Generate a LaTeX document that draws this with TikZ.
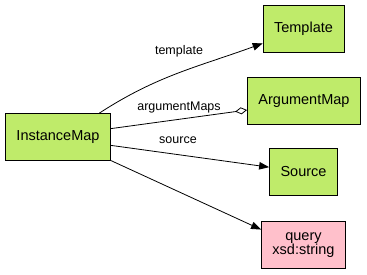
\documentclass[tikz,border=0pt]{standalone}
\usepackage{fontspec}
\setmainfont{Liberation Sans}
\usetikzlibrary{arrows.meta,positioning,calc}
\definecolor{clsG}{HTML}{BFEB6A}
\definecolor{litP}{HTML}{FFC0CB}

\begin{document}
\begin{tikzpicture}[x=1pt,y=-1pt,every node/.style={font=\fontsize{14.5}{16}\selectfont},
  cls/.style={draw=black,line width=0.8pt,fill=clsG,minimum height=47pt,inner xsep=11pt,align=center},
  lit/.style={cls,fill=litP},
  lbl/.style={font=\fontsize{12.5}{14}\selectfont,inner sep=1pt},
  >={Triangle[length=10pt,width=7.5pt]}]
  \useasboundingbox (0,0) rectangle (367,275);
  \node[cls] (im) at (58,137) {InstanceMap};
  \node[cls] (tp) at (303.5,28.5) {Template};
  \node[cls] (am) at (304,101) {ArgumentMap};
  \node[cls] (src) at (303.5,172) {Source};
  \node[lit] (qr) at (303.5,245) {query\\[-2pt]xsd:string};
  \draw[->,line width=0.8pt] (im.30) to[out=33,in=200] (tp.200);
  \draw[-{Diamond[open,length=12pt,width=7pt]},line width=0.8pt] (im.9) -- (am.189);
  \draw[->,line width=0.8pt] (im.-9) -- (src.172);
  \draw[->,line width=0.8pt] (im.-24) -- (qr.160);
  \node[lbl] (ltp) at (179,51) {template};
  \node[lbl] (lam) at (179,107) {argumentMaps};
  \node[lbl] (lsrc) at (178,140) {source};
\end{tikzpicture}
\end{document}
